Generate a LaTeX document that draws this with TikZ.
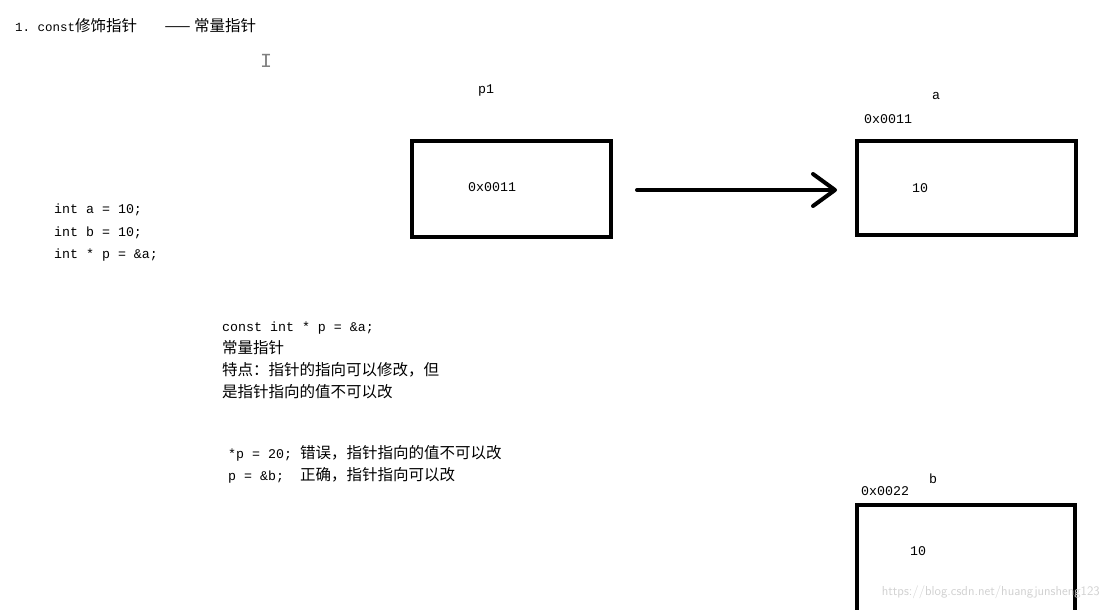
\documentclass[tikz,border=0pt]{standalone}
\usepackage{fontspec}
\setmonofont{Liberation Mono}
\newfontfamily\cjk{Noto Sans CJK SC}
\newcommand\zh[1]{{\cjk\fontsize{15.5}{19}\selectfont #1}}
\tikzset{box/.style={draw,line width=3.5pt},
 txt/.style={anchor=west,font=\ttfamily\fontsize{13.3}{22}\selectfont,inner sep=0pt,align=left}}
\begin{document}
\begin{tikzpicture}[x=1pt,y=-1pt]
\useasboundingbox[fill=white] (0,0) rectangle (1104,610);
\node[txt,font=\ttfamily\fontsize{12.5}{19}\selectfont] (title) at (15,26) {1. const\zh{修饰指针}\quad\ \ \zh{—— 常量指针}};
\node[txt,font=\ttfamily\fontsize{20}{20}\selectfont,text=gray] (cur) at (260,61) {I};
\node[txt] (p1l) at (478,91) {p1};
\node[txt] (al) at (932,96) {a};
\node[txt] (aaddr) at (864,119) {0x0011};
\node[box,minimum width=199pt,minimum height=96pt] (p1) at (511.5,189) {};
\node[txt] (p1v) at (468,187) {0x0011};
\node[box,minimum width=219pt,minimum height=94pt] (a) at (966.5,188) {};
\node[txt] (av) at (912,188) {10};
\node[txt,font=\ttfamily\fontsize{13.3}{22.5}\selectfont] (code) at (54,233) {int a = 10;\\int b = 10;\\int * p = \&a;};
\node[txt] (desc) at (222,360) {const int * p = \&a;\\\zh{常量指针}\\\zh{特点：指针的指向可以修改，但}\\\zh{是指针指向的值不可以改}};
\node[txt] (ex) at (228,464) {*p = 20; \zh{错误，指针指向的值不可以改}\\ p = \&b;\ \ \zh{正确，指针指向可以改}};
\node[txt] (bl) at (929,479) {b};
\node[txt] (baddr) at (861,491) {0x0022};
\node[box,minimum width=218pt,minimum height=110pt] (b) at (966,560) {};
\node[txt] (bv) at (910,551) {10};
\node[anchor=east,font=\sffamily\fontsize{13}{13}\selectfont,text=black!18,inner sep=0pt] (wm) at (1100,592) {https://blog.csdn.net/huangjunsheng123};
\coordinate (s) at (637,190);
\draw[line width=4pt,line cap=round] (s) -- (833,190);
\draw[line width=4pt,line cap=round,line join=round] (813,174) -- (835,190) -- (813,206);
\end{tikzpicture}
\end{document}
